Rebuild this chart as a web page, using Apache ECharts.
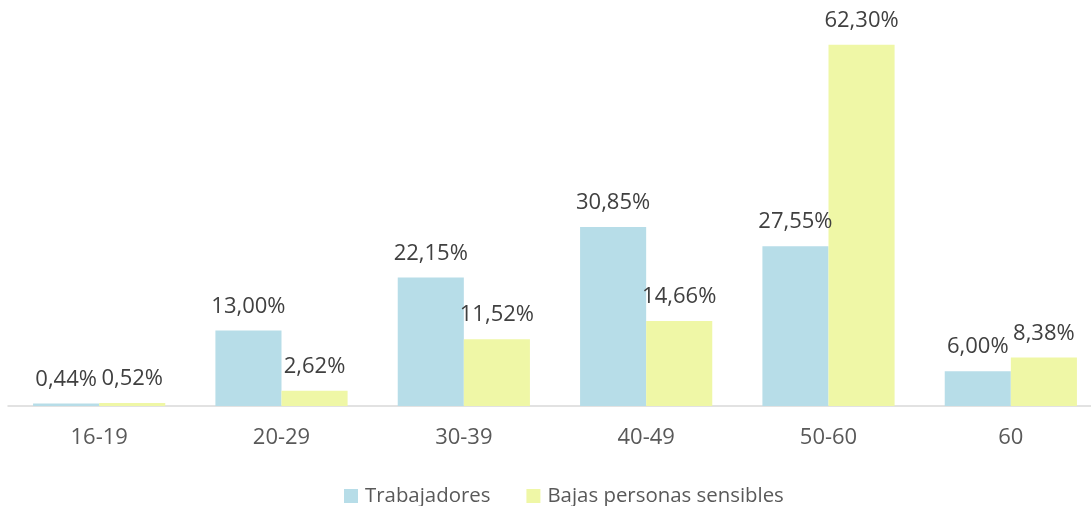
<!DOCTYPE html>
<html>
<head>
<meta charset="utf-8">
<script src="https://cdn.jsdelivr.net/npm/echarts@6/dist/echarts.min.js"></script>
<style>html,body{margin:0;padding:0;background:#fff;overflow:hidden;width:1091px;height:506px}#c{width:1102px;height:506px}</style>
</head>
<body>
<div id="c"></div>
<script>
var categories = ['16-19', '20-29', '30-39', '40-49', '50-60', '60'];
var trabajadores = [0.44, 13.00, 22.15, 30.85, 27.55, 6.00];
var bajas = [0.52, 2.62, 11.52, 14.66, 62.30, 8.38];
var seriesNames = ['Trabajadores', 'Bajas personas sensibles'];

var chart = echarts.init(document.getElementById('c'), null, {renderer: 'canvas'});
var fontFam = '"Open Sans", sans-serif';
function fmt(p) { return p.value.toFixed(2).replace('.', ',') + '%'; }
var labelCfg = {show: true, position: 'top', distance: 13, formatter: fmt, color: '#404040', fontSize: 22, fontFamily: fontFam};
chart.setOption({
  animation: false,
  backgroundColor: '#fff',
  grid: {left: 8, right: 0, top: 0, bottom: 100, containLabel: false},
  legend: {
    data: seriesNames, top: 481, left: 339, itemWidth: 14, itemHeight: 14, itemGap: 36,
    icon: 'rect',
    textStyle: {color: '#595959', fontSize: 20.4, fontFamily: fontFam, padding: [0, 0, 0, 2]}
  },
  xAxis: {
    type: 'category', data: categories,
    axisLine: {lineStyle: {color: '#d9d9d9', width: 1.5}},
    axisTick: {show: false},
    axisLabel: {color: '#595959', fontSize: 22, fontFamily: fontFam, margin: 21}
  },
  yAxis: {type: 'value', min: 0, max: 70, show: false, splitLine: {show: false}},
  series: [
    {name: seriesNames[0], type: 'bar', data: trabajadores, barGap: '0%', barCategoryGap: '27.5%',
     itemStyle: {color: '#b7dde8'}, label: labelCfg},
    {name: seriesNames[1], type: 'bar', data: bajas,
     itemStyle: {color: '#eff7a6'}, label: labelCfg}
  ]
});
</script>
</body>
</html>
